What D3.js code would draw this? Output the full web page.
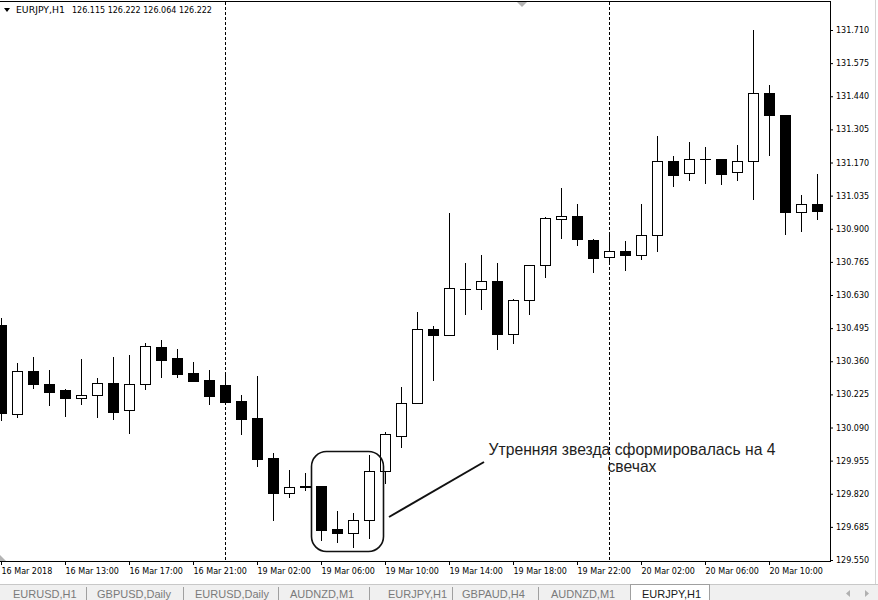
<!DOCTYPE html>
<html>
<head>
<meta charset="utf-8">
<script src="https://cdn.jsdelivr.net/npm/d3@7"></script>
<style>
  html, body { margin: 0; padding: 0; background: #fff; }
  svg { display: block; }
</style>
</head>
<body>
<svg id="chart" width="878" height="600"></svg>
<script>
// ---- Data (EURJPY, H1, 16 Mar 2018 09:00 – 20 Mar 2018 13:00) ----
const openV = [130.508,130.144,130.319,130.266,130.242,130.209,130.221,130.271,130.160,130.266,
  130.417,130.372,130.311,130.282,130.262,130.198,130.128,129.965,129.824,129.850,
  129.852,129.676,129.659,129.712,129.912,130.057,130.189,130.490,130.467,130.653,
  130.653,130.687,130.472,130.608,130.751,130.939,130.952,130.853,130.783,130.809,
  130.792,130.873,131.175,131.126,131.183,131.183,131.130,131.175,131.452,131.364,
  130.969,131.000];
const highV = [130.536,130.352,130.376,130.323,130.248,130.368,130.290,130.376,130.384,130.433,
  130.445,130.409,130.356,130.323,130.315,130.221,130.299,129.985,129.916,129.906,
  129.852,129.750,129.740,129.978,130.070,130.255,130.561,130.505,130.965,130.760,
  130.793,130.760,130.614,130.751,130.948,131.066,131.001,130.858,130.875,130.850,
  131.002,131.278,131.197,131.254,131.233,131.183,131.241,131.710,131.485,131.364,
  131.038,131.123];
const lowV = [130.121,130.134,130.252,130.183,130.138,130.187,130.134,130.126,130.069,130.248,
  130.297,130.297,130.281,130.187,130.186,130.065,129.934,129.714,129.808,129.835,
  129.633,129.625,129.602,129.638,129.863,130.012,130.189,130.284,130.467,130.554,
  130.574,130.411,130.436,130.554,130.705,130.864,130.833,130.725,130.766,130.732,
  130.777,130.808,131.073,131.100,131.088,131.084,131.100,131.022,131.202,130.877,
  130.890,130.941];
const closeV = [130.149,130.319,130.269,130.236,130.211,130.221,130.270,130.154,130.266,130.421,
  130.366,130.309,130.281,130.220,130.195,130.126,129.963,129.824,129.846,129.846,
  129.674,129.659,129.713,129.913,130.062,130.189,130.490,130.468,130.657,130.653,
  130.686,130.472,130.608,130.751,130.943,130.951,130.859,130.782,130.808,130.792,
  130.873,131.175,131.120,131.183,131.183,131.124,131.175,131.452,131.365,130.969,
  131.000,130.974];

const priceTicks = [131.710,131.575,131.440,131.305,131.170,131.035,130.900,130.765,130.630,
  130.495,130.360,130.225,130.090,129.955,129.820,129.685,129.550];
const timeTickIdx = [0,4,8,12,16,20,24,28,32,36,40,44,48];
const timeTickLabels = ["16 Mar 2018","16 Mar 13:00","16 Mar 17:00","16 Mar 21:00","19 Mar 02:00",
  "19 Mar 06:00","19 Mar 10:00","19 Mar 14:00","19 Mar 18:00","19 Mar 22:00",
  "20 Mar 02:00","20 Mar 06:00","20 Mar 10:00"];
const separatorIdx = [14, 38]; // 19 Mar 00:00, 20 Mar 00:00
const headerSymbol = "EURJPY,H1";
const headerPrices = "126.115 126.222 126.064 126.222";
const annotationLines = ["Утренняя звезда сформировалась на 4", "свечах"];
const patternIdx = [20, 23];
const tabs = ["EURUSD,H1","GBPUSD,Daily","EURUSD,Daily","AUDNZD,M1","EURJPY,H1","GBPAUD,H4","AUDNZD,M1","EURJPY,H1"];
const activeTab = 7;

const candles = openV.map((o, i) => ({i, o, h: highV[i], l: lowV[i], c: closeV[i]}));

// ---- Layout ----
const svg = d3.select("#chart");
const plotRight = 830, plotBottom = 561;
const x = d3.scaleLinear().domain([0, 51]).range([1, 817]);
const y = d3.scaleLinear().domain([129.55, 131.71]).range([560, 30]);
const AX_FONT = "'DejaVu Sans', Verdana, sans-serif";

// frame
svg.append("line").attr("x1", 0).attr("x2", plotRight + 0.5).attr("y1", 1.5).attr("y2", 1.5)
  .attr("stroke", "#000");
svg.append("line").attr("x1", plotRight + 0.5).attr("x2", plotRight + 0.5).attr("y1", 1).attr("y2", plotBottom + 1)
  .attr("stroke", "#000");
svg.append("line").attr("x1", 0).attr("x2", plotRight + 0.5).attr("y1", plotBottom + 0.5).attr("y2", plotBottom + 0.5)
  .attr("stroke", "#000");
// window right edge
svg.append("line").attr("x1", 875.5).attr("x2", 875.5).attr("y1", 0).attr("y2", 584)
  .attr("stroke", "#d4d4d4");

// period separators
svg.selectAll("line.sep").data(separatorIdx).join("line")
  .attr("class", "sep")
  .attr("x1", d => Math.round(x(d)) + 0.5).attr("x2", d => Math.round(x(d)) + 0.5)
  .attr("y1", 2).attr("y2", plotBottom)
  .attr("stroke", "#000").attr("stroke-dasharray", "3,2");

// candles
const g = svg.append("g");
const cg = g.selectAll("g.candle").data(candles).join("g").attr("class", "candle");
cg.append("line")
  .attr("x1", d => Math.round(x(d.i)) + 0.5).attr("x2", d => Math.round(x(d.i)) + 0.5)
  .attr("y1", d => Math.round(y(d.h))).attr("y2", d => Math.round(y(d.l)) + 1)
  .attr("stroke", "#000");
cg.each(function(d) {
  const sel = d3.select(this);
  const cx = Math.round(x(d.i));
  const top = Math.round(y(Math.max(d.o, d.c)));
  const bot = Math.round(y(Math.min(d.o, d.c)));
  if (d.o === d.c) {
    sel.append("line").attr("x1", cx - 5).attr("x2", cx + 6)
      .attr("y1", top + 0.5).attr("y2", top + 0.5).attr("stroke", "#000");
  } else if (d.c > d.o) {
    sel.append("rect").attr("x", cx - 4.5).attr("y", top + 0.5)
      .attr("width", 10).attr("height", Math.max(bot - top, 1))
      .attr("fill", "#fff").attr("stroke", "#000");
  } else {
    sel.append("rect").attr("x", cx - 5).attr("y", top)
      .attr("width", 11).attr("height", Math.max(bot - top + 1, 2))
      .attr("fill", "#000");
  }
});

// price axis
const yAxis = d3.axisRight(y).tickValues(priceTicks).tickFormat(d3.format(".3f"))
  .tickSize(3).tickPadding(3).tickSizeOuter(0);
const ya = svg.append("g").attr("transform", `translate(${plotRight},0)`).call(yAxis);
ya.select(".domain").remove();
ya.selectAll("text").attr("font-family", AX_FONT).attr("font-size", 8).attr("fill", "#000");
ya.selectAll("line").attr("stroke", "#000");

// time axis
const xAxis = d3.axisBottom(x).tickValues(timeTickIdx)
  .tickFormat((d, k) => timeTickLabels[k]).tickSize(4).tickPadding(3).tickSizeOuter(0);
const xa = svg.append("g").attr("transform", `translate(0,${plotBottom})`).call(xAxis);
xa.select(".domain").remove();
xa.selectAll("text").attr("font-family", AX_FONT).attr("font-size", 8).attr("fill", "#000")
  .attr("text-anchor", "start").attr("dx", 0);
xa.selectAll("line").attr("stroke", "#000");

// header
svg.append("path").attr("d", "M4,8 L10,8 L7,12 Z").attr("fill", "#000");
svg.append("text").attr("x", 16).attr("y", 13)
  .attr("font-family", AX_FONT).attr("font-size", 9.3).attr("fill", "#000").text(headerSymbol);
svg.append("text").attr("x", 72).attr("y", 13)
  .attr("font-family", AX_FONT).attr("font-size", 8).attr("fill", "#000").text(headerPrices);

// shift marker & scale marker
svg.append("path").attr("d", "M517,2 L527,2 L522,7 Z").attr("fill", "#b4b4b4");
svg.append("path").attr("d", "M0,555 L0,561 L6,561 Z").attr("fill", "#b4b4b4");

// annotation: rounded box around pattern candles, pointer and label
const bx0 = Math.round(x(patternIdx[0])) - 10, bx1 = Math.round(x(patternIdx[1])) + 14;
const byTop = Math.round(y(d3.max(highV.slice(patternIdx[0], patternIdx[1] + 1)))) - 4;
const byBot = Math.round(y(d3.min(lowV.slice(patternIdx[0], patternIdx[1] + 1)))) + 4;
svg.append("rect").attr("x", bx0 + 0.5).attr("y", byTop + 0.5)
  .attr("width", bx1 - bx0).attr("height", byBot - byTop)
  .attr("rx", 15).attr("ry", 15)
  .attr("fill", "none").attr("stroke", "#111").attr("stroke-width", 1.6);
svg.append("line").attr("x1", bx1 + 6).attr("y1", 517).attr("x2", 484).attr("y2", 462)
  .attr("stroke", "#111").attr("stroke-width", 2);
svg.selectAll("text.ann").data(annotationLines).join("text")
  .attr("class", "ann")
  .attr("x", 632).attr("y", (d, k) => 455 + k * 17)
  .attr("text-anchor", "middle")
  .attr("font-family", "'Liberation Sans', Arial, sans-serif").attr("font-size", 15.7)
  .attr("fill", "#1e1e1e").text(d => d);

// tab bar
const tabY = 584;
svg.append("rect").attr("x", 0).attr("y", tabY).attr("width", 878).attr("height", 16).attr("fill", "#f0f0f0");
svg.append("line").attr("x1", 0).attr("x2", 878).attr("y1", tabY + 0.5).attr("y2", tabY + 0.5).attr("stroke", "#c8c8c8");
const tabX = [13, 97, 195, 290, 388, 462, 551, 642];
const sepX = [86, 183, 278, 369, 452, 538];
svg.append("rect").attr("x", 630.5).attr("y", tabY + 0.5).attr("width", 79).attr("height", 17)
  .attr("fill", "#fff").attr("stroke", "#a0a0a0");
svg.selectAll("line.tabsep").data(sepX).join("line").attr("class", "tabsep")
  .attr("x1", d => d + 0.5).attr("x2", d => d + 0.5).attr("y1", 587).attr("y2", 600)
  .attr("stroke", "#a0a0a0");
svg.selectAll("text.tab").data(tabs).join("text").attr("class", "tab")
  .attr("x", (d, k) => tabX[k]).attr("y", 598)
  .attr("font-family", "'Liberation Sans', Arial, sans-serif").attr("font-size", 11)
  .attr("fill", (d, k) => k === activeTab ? "#1a1a1a" : "#7a7a7a").text(d => d);
svg.append("path").attr("d", "M850,590 L850,597 L846,593.5 Z").attr("fill", "#b0b0b0");
svg.append("path").attr("d", "M865,590 L865,597 L869,593.5 Z").attr("fill", "#b0b0b0");
</script>
</body>
</html>
